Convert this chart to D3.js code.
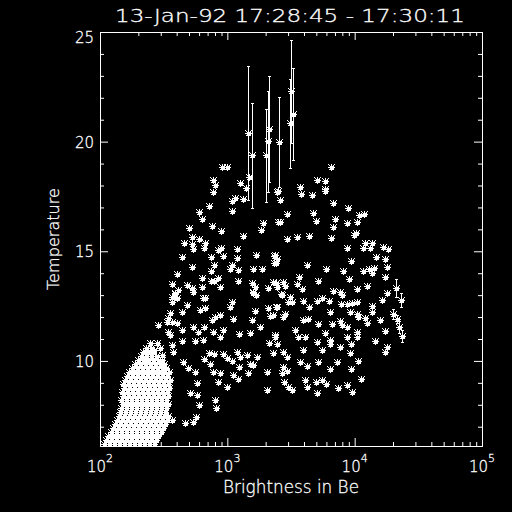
<!DOCTYPE html>
<html lang="en">
<head>
    <meta charset="UTF-8">
    <script src="https://cdn.jsdelivr.net/npm/d3@7"></script>
    <title>Brightness vs Temperature</title>
    <style>
        body { margin: 0; background: #000; }
        svg { display: block; }
        text { fill: #fff; stroke: #fff; stroke-width: 0.3px; font-family: 'DejaVu Sans', sans-serif; font-weight: 200; }
    </style>
</head>
<body>
    <div class="chart"></div>
    <script>
        const title = "13-Jan-92 17:28:45 - 17:30:11";
        const xTitle = "Brightness in Be";
        const yTitle = "Temperature";
        const xMajor = [1e2, 1e3, 1e4, 1e5];
        const xExponents = ["2", "3", "4", "5"];
        const yMajor = [10, 15, 20, 25];

        // [brightness, temperature] for the single points
        const scatter = [
            [907,18.84],[993,18.84],[771,18.25],[800,18.02],[771,17.71],[1479,18.39],[1257,18.11],[1401,17.89],
            [1148,17.43],[1088,17.29],[1327,17.38],[1088,16.84],[717,17.07],[599,16.79],[633,16.47],[500,16.06],
            [757,16.15],[891,15.93],[1327,15.70],[1906,16.29],[1838,15.97],[2500,16.34],[2500,17.75],[528,15.65],
            [599,15.56],[667,15.38],[655,15.15],[457,15.38],[528,15.33],[537,15.10],[441,14.74],[743,14.74],
            [845,15.06],[891,15.15],[924,14.79],[1190,15.10],[1190,14.69],[1679,14.83],[528,14.28],[786,14.37],
            [743,14.10],[1088,14.37],[1049,14.19],[1214,14.15],[1590,14.19],[1872,14.19],[2326,14.79],[2411,14.47],
            [402,13.96],[633,13.78],[743,13.65],[786,13.65],[845,13.78],[1214,13.65],[875,13.37],[633,13.37],
            [367,13.51],[482,13.46],[528,13.33],[409,13.24],[388,13.05],[367,12.92],[1561,13.56],[1649,13.37],
            [1590,13.14],[2086,13.33],[2411,13.56],[667,12.87],
            [2455,17.70],[3791,17.61],[4626,17.57],[5854,17.75],[2592,17.34],[6765,17.20],[8877,16.97],[10834,16.66],
            [11860,16.70],[2943,16.70],[4711,16.75],[2592,16.34],[4975,16.38],[7016,16.47],[8718,16.29],[10449,16.34],
            [6765,16.11],[10261,15.83],[9896,15.74],[2943,15.56],[3524,15.65],[4382,15.70],[6526,15.61],[8718,15.15],
            [12077,15.38],[13710,15.38],[13221,15.15],[11647,15.15],[16742,15.20],[18313,15.10],[2368,14.83],[2455,14.65],
            [2326,14.47],[9373,14.56],[14739,14.74],[17346,14.65],[4227,14.37],[5961,14.19],[8108,14.10],[11647,14.10],
            [12983,14.19],[14214,14.24],[13710,14.01],[17987,14.28],[3656,13.83],[5158,13.65],[9040,13.74],[17346,13.83],
            [12523,13.42],[10449,13.28],[6765,13.19],[7681,13.14],[7965,13.01],[17987,13.10],[2284,13.60],[2737,13.60],
            [2455,13.37],[2838,13.42],[3524,13.51],[3860,13.28],[5545,12.87],[6526,18.84],[5065,18.25],[5854,18.21],
            [3723,17.93],[5854,17.84],[2640,13.05],
            [2688,13.01],[3107,12.92],[3221,12.69],[3928,12.73],[5065,12.73],[2455,12.46],[2284,12.10],[2838,12.14],
            [2737,12.00],[2997,12.69],[4382,12.46],[6294,12.73],[7821,12.60],[8718,12.60],[9545,12.64],[10449,12.69],
            [6409,12.23],[9205,12.23],[10449,12.14],[13710,12.51],[13710,12.23],[16441,12.78],[3928,11.87],[4301,11.91],
            [5158,11.68],[6644,11.68],[7681,11.82],[7965,11.64],[8718,11.55],[10640,12.00],[12077,11.96],[12523,11.73],
            [15845,11.87],[3401,11.41],[5854,11.27],[10449,11.32],[10449,11.09],[17346,11.36],[2368,11.09],[3591,11.09],
            [4076,11.09],[8718,11.09],[2455,10.77],[5065,10.86],[6409,10.96],[6409,10.77],[7681,10.64],[9373,10.77],
            [14474,10.91],[3928,10.50],[2737,10.41],[2943,10.18],[5545,10.50],[9205,10.36],[17987,10.64],[17346,10.41],
            [2284,10.36],[3723,9.95],[4227,9.77],[5158,9.95],[7275,9.95],[10640,10.00],[2737,9.72],[2688,9.45],
            [2943,9.54],[6409,9.63],[9373,9.63],[11234,9.18],[2787,9.04],[3221,8.68],[2997,8.81],[4076,9.13],
            [4227,8.81],[4975,9.04],[5545,9.13],[5961,8.95],[7408,8.77],[8718,8.90],[9545,8.58],[5065,8.54],
            [388,13.10],[402,12.87],[367,12.69],[537,13.14],[644,12.87],[667,12.41],[1088,12.69],[1049,12.46],
            [1590,13.10],[1679,13.01],[441,12.23],[482,12.55],[610,12.32],[757,11.87],[800,12.00],[1108,11.91],
            [1561,11.87],[1649,12.28],[2086,12.41],[2163,12.05],[2411,12.46],[354,12.19],[367,11.78],[402,11.73],
            [342,11.96],[285,11.64],[336,11.78],[441,11.41],[537,11.55],[588,11.32],[655,11.55],[771,11.32],
            [875,11.09],[924,11.41],[1235,11.23],[1506,11.27],[1805,11.55],[2368,11.18],[2124,10.82],[342,11.32],
            [354,11.18],[557,10.91],[644,10.96],[441,10.91],[280,10.82],[296,10.59],[265,10.50],[367,10.73],
            [374,10.41],[717,10.36],[786,10.32],[655,10.09],[730,9.86],[924,10.32],[993,10.13],[1088,10.00],
            [1190,10.41],[1257,10.18],[1426,10.27],[1506,9.86],[1710,10.18],[1590,9.81],[2051,9.50],[1108,9.36],
            [1214,9.18],[1453,9.45],[1235,9.72],[875,9.45],[771,9.50],[845,9.04],[993,8.81],[449,9.95],
            [491,9.68],[557,9.50],[578,9.00],[509,8.54],[578,8.45],[800,8.22],[815,7.86],[599,7.99],
            [465,7.17],[537,7.22],[568,7.44],[367,7.31],[2051,8.68],[875,12.10],[236,10.04],[307,10.27],[247,10.82]
        ];

        // dense low-brightness cloud, one temperature per row
        const cloudTemp = [6.21, 6.40, 6.58, 6.76, 6.94, 7.12, 7.31, 7.49, 7.67, 7.85, 8.04, 8.22, 8.40,
                           8.58, 8.77, 8.95, 9.13, 9.31, 9.50, 9.68, 9.86, 10.04, 10.23, 10.41, 10.59];
        const cloudBright = [
            [107.5, 117.7, 128.8, 141.0, 154.4, 169.0, 185.1, 202.6, 221.8, 242.9, 265.9],
            [111.5, 122.0, 133.5, 146.2, 160.1, 175.3, 191.9, 210.1, 230.0, 251.8, 275.7],
            [115.6, 126.5, 138.5, 151.6, 166.0, 181.7, 199.0, 217.8, 238.5, 261.1, 285.9],
            [122.0, 133.5, 146.2, 160.1, 175.3, 191.9, 210.1, 230.0, 251.8, 275.7, 301.9],
            [126.5, 138.5, 151.6, 166.0, 181.7, 199.0, 217.8, 238.5, 261.1, 285.9, 313.0],
            [131.1, 143.6, 157.2, 172.1, 188.5, 206.3, 225.9, 247.3, 270.8, 296.4, 324.6],
            [136.0, 148.9, 163.0, 178.5, 195.4, 213.9, 234.2, 256.4, 280.8, 307.4, 336.5],
            [141.0, 154.4, 169.0, 185.1, 202.6, 221.8, 242.9, 265.9, 291.1, 318.7, 342.7],
            [143.6, 157.2, 172.1, 188.5, 206.3, 225.9, 247.3, 270.8, 296.4, 324.6],
            [146.2, 160.1, 175.3, 191.9, 210.1, 230.0, 251.8, 275.7, 301.9, 330.5],
            [151.6, 166.0, 181.7, 199.0, 217.8, 238.5, 261.1, 285.9, 313.0, 342.7],
            [146.2, 160.1, 175.3, 191.9, 210.1, 230.0, 251.8, 275.7, 301.9, 330.5],
            [151.6, 166.0, 181.7, 199.0, 217.8, 238.5, 261.1, 285.9, 313.0, 342.7],
            [148.9, 163.0, 178.5, 195.4, 213.9, 234.2, 256.4, 280.8, 307.4, 336.5],
            [154.4, 169.0, 185.1, 202.6, 221.8, 242.9, 265.9, 291.1, 318.7, 348.9],
            [151.6, 166.0, 181.7, 199.0, 217.8, 238.5, 261.1, 285.9, 313.0, 342.7],
            [157.2, 172.1, 188.5, 206.3, 225.9, 247.3, 270.8, 296.4, 324.6, 355.3],
            [163.0, 178.5, 195.4, 213.9, 234.2, 256.4, 280.8, 307.4, 336.5],
            [169.0, 185.1, 202.6, 221.8, 242.9, 265.9, 291.1, 318.7, 348.9],
            [178.5, 195.4, 213.9, 234.2, 256.4, 280.8, 307.4, 330.5],
            [188.5, 206.3, 225.9, 247.3, 270.8, 296.4, 318.7],
            [199.0, 217.8, 238.5, 261.1, 285.9, 307.4],
            [210.1, 230.0, 251.8, 275.7],
            [217.8, 238.5, 261.1],
            [230.0, 251.8]
        ];

        // points whose error bars are visible
        const errBright = [1461, 1570, 2124, 2075, 2026, 2546, 3183, 3296, 3125, 21055, 23050, 20040, 21440, 22470, 23720];
        const errTemp = [20.39, 19.37, 20.58, 20.01, 19.37, 19.98, 22.29, 21.26, 20.83, 13.33, 12.78, 12.14, 11.91, 11.55, 11.14];
        const errSize = [3.06, 2.39, 2.42, 2.30, 2.12, 2.05, 2.35, 2.10, 2.03, 0.41, 0.32, 0.25, 0.20, 0.27, 0.29];

        const width = 512, height = 512;
        const plot = { left: 100, right: 482, top: 32, bottom: 446 };

        const svg = d3.select(".chart").append("svg")
            .attr("width", width)
            .attr("height", height)
            .style("background", "#000");

        const x = d3.scaleLog().domain([1e2, 1e5]).range([plot.left, plot.right]);
        const y = d3.scaleLinear().domain([6.12, 25]).range([plot.bottom, plot.top]);

        const xMinor = x.ticks().filter(v => !xMajor.includes(v));
        const yMinor = y.ticks(20).filter(v => !yMajor.includes(v));

        function drawAxis(axis, transform) {
            svg.append("g")
                .attr("transform", transform)
                .call(axis)
                .call(g => {
                    g.selectAll("text").remove();
                    g.select(".domain").attr("stroke", "#fff");
                    g.selectAll(".tick line").attr("stroke", "#fff");
                });
        }

        const maj = 8, min = 4;
        drawAxis(d3.axisBottom(x).tickValues(xMajor).tickSize(-maj).tickSizeOuter(0), `translate(0,${plot.bottom})`);
        drawAxis(d3.axisBottom(x).tickValues(xMinor).tickSize(-min).tickSizeOuter(0), `translate(0,${plot.bottom})`);
        drawAxis(d3.axisTop(x).tickValues(xMajor).tickSize(-maj).tickSizeOuter(0), `translate(0,${plot.top})`);
        drawAxis(d3.axisTop(x).tickValues(xMinor).tickSize(-min).tickSizeOuter(0), `translate(0,${plot.top})`);
        drawAxis(d3.axisLeft(y).tickValues(yMajor).tickSize(-maj).tickSizeOuter(0), `translate(${plot.left},0)`);
        drawAxis(d3.axisLeft(y).tickValues(yMinor).tickSize(-min).tickSizeOuter(0), `translate(${plot.left},0)`);
        drawAxis(d3.axisRight(y).tickValues(yMajor).tickSize(-maj).tickSizeOuter(0), `translate(${plot.right},0)`);
        drawAxis(d3.axisRight(y).tickValues(yMinor).tickSize(-min).tickSizeOuter(0), `translate(${plot.right},0)`);

        // tick labels
        svg.append("g").selectAll("text")
            .data(yMajor)
            .enter()
            .append("text")
            .attr("x", plot.left - 6)
            .attr("y", d => Math.max(y(d) + 6, plot.top + 11))
            .attr("text-anchor", "end")
            .attr("font-size", 15)
            .text(d => d);

        const xl = svg.append("g").selectAll("text")
            .data(xMajor)
            .enter()
            .append("text")
            .attr("x", d => x(d))
            .attr("y", plot.bottom + 26)
            .attr("text-anchor", "middle")
            .attr("font-size", 15);
        xl.append("tspan").text("10");
        xl.append("tspan").attr("dy", -10).attr("font-size", 11).text((d, i) => xExponents[i]);

        // titles
        svg.append("text")
            .attr("x", 290).attr("y", 22)
            .attr("text-anchor", "middle")
            .attr("font-size", 18)
            .attr("textLength", 350).attr("lengthAdjust", "spacingAndGlyphs")
            .text(title);

        svg.append("text")
            .attr("x", 291).attr("y", 493)
            .attr("text-anchor", "middle")
            .attr("font-size", 17)
            .attr("textLength", 136).attr("lengthAdjust", "spacingAndGlyphs")
            .text(xTitle);

        svg.append("text")
            .attr("transform", "translate(59,239) rotate(-90)")
            .attr("text-anchor", "middle")
            .attr("font-size", 16)
            .attr("textLength", 102).attr("lengthAdjust", "spacingAndGlyphs")
            .text(yTitle);

        // points
        svg.append("clipPath").attr("id", "clip")
            .append("rect")
            .attr("x", plot.left).attr("y", plot.top)
            .attr("width", plot.right - plot.left).attr("height", plot.bottom - plot.top);

        const marks = svg.append("g").attr("clip-path", "url(#clip)");

        // IDL-style asterisk: eight arms plus a small solid core
        const star = "M-3.5,0H3.5M0,-3.5V3.5M-3,-3L3,3M-3,3L3,-3M-1.5,-1.5H1.5V1.5H-1.5Z";
        const cloud = cloudBright.flatMap((row, i) => row.map(b => [b, cloudTemp[i]]));
        const errPoints = errBright.map((b, i) => [b, errTemp[i], errSize[i]]);
        const allPoints = cloud.concat(scatter).concat(errPoints.map(d => [d[0], d[1]]));

        marks.selectAll("path.star")
            .data(allPoints)
            .enter()
            .append("path")
            .attr("class", "star")
            .attr("d", star)
            .attr("transform", d => `translate(${Math.round(x(d[0])) + 0.5},${Math.round(y(d[1])) + 0.5})`)
            .attr("stroke", "#fff")
            .attr("stroke-width", 1)
            .attr("fill", "#fff")
            .attr("shape-rendering", "crispEdges");

        const bars = marks.selectAll("g.err")
            .data(errPoints)
            .enter()
            .append("g")
            .attr("class", "err")
            .attr("stroke", "#fff")
            .attr("shape-rendering", "crispEdges");

        bars.append("line")
            .attr("x1", d => Math.round(x(d[0])) + 0.5).attr("x2", d => Math.round(x(d[0])) + 0.5)
            .attr("y1", d => y(d[1] - d[2])).attr("y2", d => y(d[1] + d[2]));
        bars.append("line")
            .attr("x1", d => Math.round(x(d[0])) - 1).attr("x2", d => Math.round(x(d[0])) + 2)
            .attr("y1", d => Math.round(y(d[1] + d[2])) + 0.5).attr("y2", d => Math.round(y(d[1] + d[2])) + 0.5);
        bars.append("line")
            .attr("x1", d => Math.round(x(d[0])) - 1).attr("x2", d => Math.round(x(d[0])) + 2)
            .attr("y1", d => Math.round(y(d[1] - d[2])) + 0.5).attr("y2", d => Math.round(y(d[1] - d[2])) + 0.5);
    </script>
</body>
</html>
